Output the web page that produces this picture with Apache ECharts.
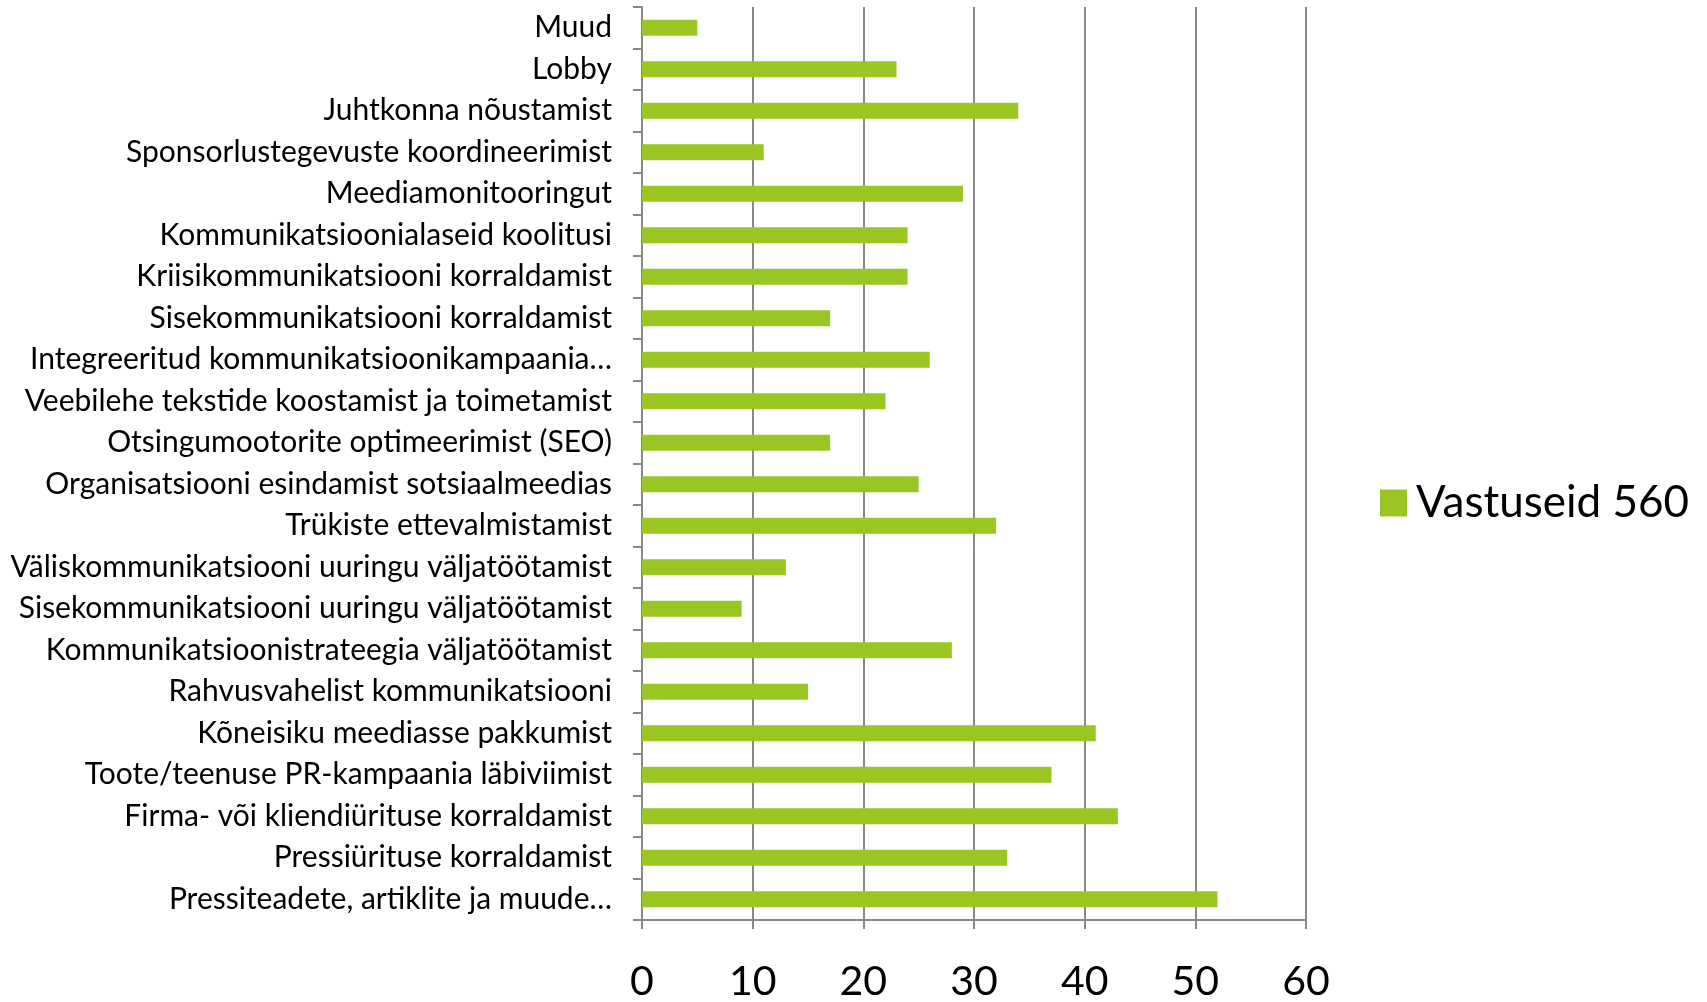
<!DOCTYPE html>
<html>
<head>
<meta charset="utf-8">
<script src="https://cdn.jsdelivr.net/npm/echarts@6/dist/echarts.min.js"></script>
<style>
html,body{margin:0;padding:0;background:#fff;}
#c{width:1707px;height:1002px;}
</style>
</head>
<body>
<div id="c"></div>
<script>
// categories listed bottom-to-top (ECharts category axis order)
const categories = [
  "Pressiteadete, artiklite ja muude…",
  "Pressiürituse korraldamist",
  "Firma- või kliendiürituse korraldamist",
  "Toote/teenuse PR-kampaania läbiviimist",
  "Kõneisiku meediasse pakkumist",
  "Rahvusvahelist kommunikatsiooni",
  "Kommunikatsioonistrateegia väljatöötamist",
  "Sisekommunikatsiooni uuringu väljatöötamist",
  "Väliskommunikatsiooni uuringu väljatöötamist",
  "Trükiste ettevalmistamist",
  "Organisatsiooni esindamist sotsiaalmeedias",
  "Otsingumootorite optimeerimist (SEO)",
  "Veebilehe tekstide koostamist ja toimetamist",
  "Integreeritud kommunikatsioonikampaania…",
  "Sisekommunikatsiooni korraldamist",
  "Kriisikommunikatsiooni korraldamist",
  "Kommunikatsioonialaseid koolitusi",
  "Meediamonitooringut",
  "Sponsorlustegevuste koordineerimist",
  "Juhtkonna nõustamist",
  "Lobby",
  "Muud"
];
const seriesName = "Vastuseid 560";
const values = [52, 33, 43, 37, 41, 15, 28, 9, 13, 32, 25, 17, 22, 26, 17, 24, 24, 29, 11, 34, 23, 5];
const xTicks = {min: 0, max: 60, interval: 10};

const FONT = "Lato, 'Noto Sans', sans-serif";
const chart = echarts.init(document.getElementById('c'), null, {renderer: 'canvas'});
chart.setOption({
  animation: false,
  backgroundColor: '#ffffff',
  grid: {left: 642, right: 401, top: 7, bottom: 81, containLabel: false},
  legend: {
    show: true,
    left: 1375, top: 476,
    orient: 'vertical',
    itemWidth: 27, itemHeight: 27, itemGap: 10,
    icon: 'rect',
    textStyle: {fontFamily: FONT, fontSize: 44, color: '#000', padding: [0, 0, 0, 4]},
    data: [seriesName]
  },
  xAxis: {
    type: 'value',
    min: xTicks.min, max: xTicks.max, interval: xTicks.interval,
    axisLine: {show: true, lineStyle: {color: '#888', width: 2}},
    axisTick: {show: true, inside: false, length: 9, lineStyle: {color: '#888', width: 2}},
    splitLine: {show: true, lineStyle: {color: '#888', width: 2}},
    axisLabel: {fontFamily: FONT, fontSize: 41, color: '#000', margin: 41}
  },
  yAxis: {
    type: 'category',
    data: categories,
    axisLine: {show: true, lineStyle: {color: '#888', width: 2}},
    axisTick: {show: true, inside: false, length: 9, alignWithLabel: false, lineStyle: {color: '#888', width: 2}},
    axisLabel: {fontFamily: FONT, fontSize: 30, color: '#000', margin: 30, interval: 0},
    splitLine: {show: false}
  },
  series: [{
    name: seriesName,
    type: 'bar',
    data: values,
    barWidth: 16,
    itemStyle: {color: '#99C623'}
  }]
});
</script>
</body>
</html>
